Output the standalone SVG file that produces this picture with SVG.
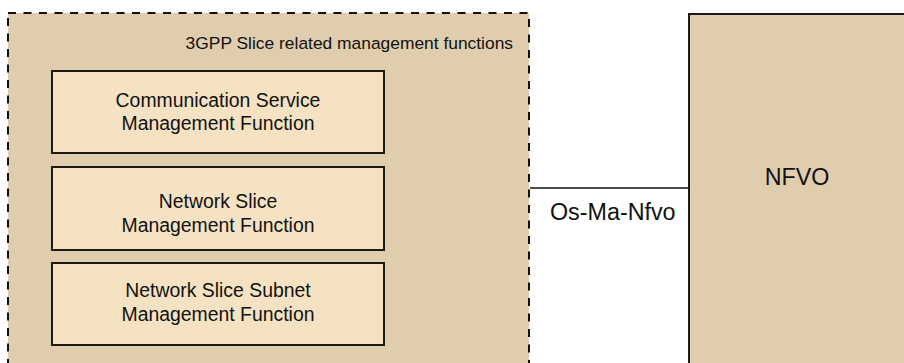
<svg xmlns="http://www.w3.org/2000/svg" width="904" height="363" viewBox="0 0 904 363">
  <style>
    .group { fill: #e0cdad; stroke: #111; stroke-width: 2; stroke-dasharray: 8 7.5; }
    .func { fill: #f5e2c3; stroke: #1a1a1a; stroke-width: 2; }
    .nfvo { fill: #e0cdad; stroke: #1a1a1a; stroke-width: 2; }
    .link { stroke: #111; stroke-width: 1.6; fill: none; }
    text { font-family: "Liberation Sans", Arial, sans-serif; fill: #111; }
    .lbl { font-size: 19.4px; text-anchor: middle; }
    .title { font-size: 17.4px; text-anchor: end; }
    .big { font-size: 23.3px; }
  </style>

  <!-- white page -->
  <rect x="0" y="0" width="904" height="363" fill="#ffffff"/>

  <!-- 3GPP slice management container (continues past bottom edge) -->
  <g id="slice-mgmt">
    <rect class="group" x="8" y="13" width="521" height="400"/>
    <text class="title" x="513" y="49">3GPP Slice related management functions</text>
  </g>

  <g id="csmf">
    <rect class="func" x="52" y="71" width="332" height="82"/>
    <text class="lbl" x="218" y="106.7">Communication Service</text>
    <text class="lbl" x="218" y="130">Management Function</text>
  </g>

  <g id="nsmf">
    <rect class="func" x="52" y="167" width="332" height="83"/>
    <text class="lbl" x="218" y="208.3">Network Slice</text>
    <text class="lbl" x="218" y="231.7">Management Function</text>
  </g>

  <g id="nssmf">
    <rect class="func" x="52" y="263" width="332" height="82"/>
    <text class="lbl" x="218" y="297.3">Network Slice Subnet</text>
    <text class="lbl" x="218" y="320.7">Management Function</text>
  </g>

  <!-- NFVO (continues past right and bottom edges) -->
  <g id="nfvo">
    <rect class="nfvo" x="689" y="14" width="260" height="400"/>
    <text class="big" x="797" y="185" text-anchor="middle">NFVO</text>
  </g>

  <!-- reference point -->
  <g id="connectors">
    <line class="link" x1="530" y1="188" x2="689" y2="188"/>
    <text class="big" x="550" y="220">Os-Ma-Nfvo</text>
  </g>
</svg>
